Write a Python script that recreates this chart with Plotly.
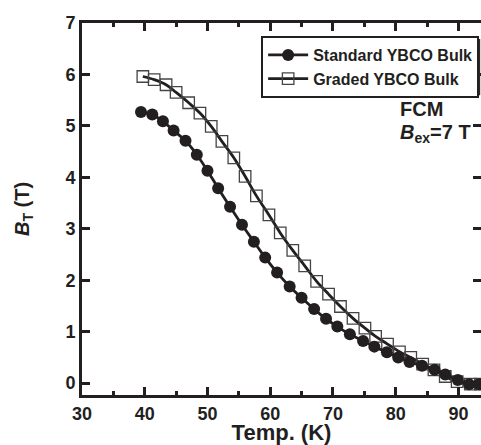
import plotly.graph_objects as go

# Standard YBCO bulk (filled circles)
std_T = [39.4, 41.2, 42.9, 44.6, 46.5, 48.3, 50.0, 51.7, 53.6, 55.5, 57.4, 59.2,
         61.1, 63.1, 65.0, 67.0, 68.9, 70.7, 72.7, 74.8, 76.6, 78.6, 80.4, 82.2,
         84.2, 86.2, 87.9, 89.9, 91.7, 93.3]
std_B = [5.27, 5.22, 5.09, 4.91, 4.71, 4.44, 4.13, 3.79, 3.43, 3.08, 2.75, 2.44,
         2.15, 1.88, 1.66, 1.44, 1.25, 1.10, 0.95, 0.82, 0.71, 0.60, 0.50, 0.41,
         0.34, 0.26, 0.17, 0.06, -0.02, -0.02]

# Graded YBCO bulk (open squares)
grd_T = [39.7, 41.5, 43.4, 45.0, 47.0, 48.8, 50.6, 52.3, 54.2, 56.0, 57.8, 59.8,
         61.6, 63.6, 65.5, 67.4, 69.3, 71.2, 73.2, 75.1, 76.8, 78.7, 80.6, 82.4,
         84.3, 86.1, 87.9, 89.8, 91.9, 93.5]
grd_B = [5.96, 5.90, 5.80, 5.65, 5.45, 5.25, 4.99, 4.70, 4.38, 4.02, 3.64, 3.27,
         2.92, 2.58, 2.28, 1.98, 1.73, 1.49, 1.26, 1.07, 0.91, 0.76, 0.61, 0.50,
         0.37, 0.26, 0.13, 0.03, -0.02, -0.02]

x_ticks = [30, 40, 50, 60, 70, 80, 90]
y_ticks = [0, 1, 2, 3, 4, 5, 6, 7]

INK = "#231f20"
FONT = "Liberation Sans, Arial, sans-serif"

fig = go.Figure()
fig.add_trace(go.Scatter(
    x=grd_T, y=grd_B, mode="lines+markers", name="<b>Graded YBCO Bulk</b>",
    line=dict(color=INK, width=2.8, shape="spline"),
    marker=dict(symbol="square-open", size=11.5, color="#444444", line=dict(width=1.3)),
    legendrank=2,
))
# drawn on the matching right-hand axis so it sits on top and the right ticks get drawn
fig.add_trace(go.Scatter(
    x=std_T, y=std_B, mode="lines+markers", name="<b>Standard YBCO Bulk</b>",
    line=dict(color=INK, width=2.8, shape="spline"),
    marker=dict(symbol="circle", size=12, color=INK),
    legendrank=1, yaxis="y2",
))

tick_common = dict(
    ticks="inside", ticklen=8, tickwidth=2.5, tickcolor=INK,
    showgrid=False, zeroline=False,
    tickfont=dict(family=FONT, size=18, color=INK),
)

fig.update_xaxes(
    range=[30, 93.6], tickvals=x_ticks, ticktext=[f"<b>{v}</b>" for v in x_ticks],
    showline=True, linewidth=3, linecolor=INK, mirror="ticks",
    minor=dict(ticks="inside", ticklen=4, tickwidth=2.5, tickcolor=INK, dtick=5, tick0=30, showgrid=False),
    title=dict(text="<b>Temp. (K)</b>", font=dict(family=FONT, size=22, color=INK), standoff=0),
    **tick_common,
)
fig.update_layout(
    yaxis=dict(
        range=[-0.23, 7], tickvals=y_ticks, ticktext=[f"<b>{v}</b>" for v in y_ticks],
        showline=True, linewidth=3, linecolor=INK, mirror=False,
        title=dict(text="<b><i>B</i><sub>T</sub> (T)</b>", font=dict(family=FONT, size=20, color=INK), standoff=31),
        **tick_common,
    ),
    yaxis2=dict(
        overlaying="y", side="right", matches="y", range=[-0.23, 7], tickvals=y_ticks,
        showticklabels=False, showline=False, **tick_common,
    ),
)

# legend drop shadow
fig.add_shape(type="rect", xref="paper", yref="paper",
              x0=0.456, x1=0.998, y0=0.806, y1=0.957,
              fillcolor="#2a2a2a", line=dict(width=0), layer="above")

fig.add_annotation(x=0.793, y=0.803, xref="paper", yref="paper", showarrow=False,
                   text="<b>FCM</b>", xanchor="left",
                   font=dict(family=FONT, size=20, color=INK))
fig.add_annotation(x=0.793, y=0.743, xref="paper", yref="paper", showarrow=False,
                   text="<b><i>B</i></b><sub><b>ex</b></sub><b>=7 T</b>", xanchor="left",
                   font=dict(family=FONT, size=20, color=INK))

fig.update_layout(
    width=481, height=445,
    margin=dict(l=82, r=0, t=23, b=50),
    paper_bgcolor="white", plot_bgcolor="white",
    showlegend=True,
    legend=dict(
        x=0.449, y=0.965, xanchor="left", yanchor="top",
        bgcolor="white", bordercolor=INK, borderwidth=2,
        font=dict(family=FONT, size=16, color=INK),
        itemwidth=40, tracegroupgap=0, traceorder="normal",
    ),
)

fig.write_html("out.html")
